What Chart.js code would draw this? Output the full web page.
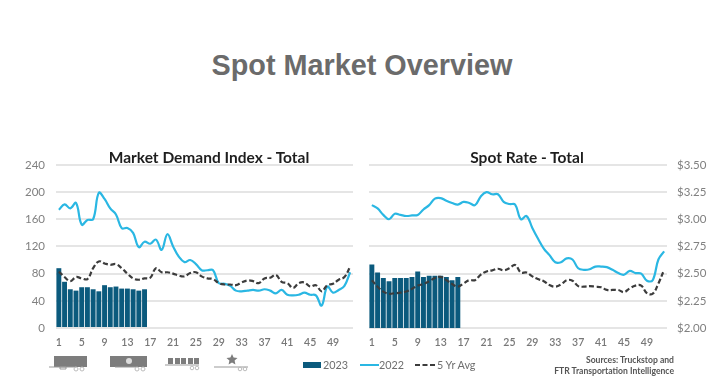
<!DOCTYPE html>
<html><head><meta charset="utf-8">
<script src="https://cdn.jsdelivr.net/npm/chart.js@4"></script>
<style>
html,body{margin:0;padding:0;background:#fff;width:724px;height:392px;overflow:hidden}
.a{position:absolute;white-space:nowrap}
canvas{position:absolute}
#main{left:0;width:724px;text-align:center;top:47px;font:bold 28.8px/36px "Liberation Sans",sans-serif;color:#6b6b6b}
.ct{font:bold 15.5px/18px Lato,sans-serif;color:#1e1e1e;text-align:center;transform:translateX(-50%);top:148px}
.lg{font:10.8px/16px Lato,sans-serif;color:#6f6f6f;top:357px}
#src{right:50px;top:355px;text-align:right;font:bold 8.6px/10.5px Lato,sans-serif;color:#555}
.soft{filter:blur(.45px)}
</style></head><body>
<div class="a" id="main">Spot Market Overview</div>
<canvas id="c1" class="soft" width="362" height="203" style="left:0;top:147px"></canvas>
<canvas id="c2" class="soft" width="362" height="202" style="left:362px;top:148px"></canvas>
<div class="a ct soft" style="left:209px">Market Demand Index - Total</div>
<div class="a ct soft" style="left:527px">Spot Rate - Total</div>
<svg class="a soft" width="724" height="392" style="left:0;top:0" fill="#7d7d7d">
  <rect x="54" y="356" width="33" height="11"/><path d="M49 367H76M60 367h6v2h-6z" stroke="#999" fill="none"/>
  <circle cx="76" cy="369" r="2" fill="none" stroke="#bbb"/><circle cx="82" cy="369" r="2" fill="none" stroke="#bbb"/>
  <rect x="110" y="356" width="37" height="11"/><circle cx="129" cy="361" r="3" fill="#ddd"/><path d="M115 367H136" stroke="#999"/>
  <circle cx="137" cy="369" r="2" fill="none" stroke="#bbb"/><circle cx="143" cy="369" r="2" fill="none" stroke="#bbb"/>
  <rect x="168" y="358" width="5" height="6"/><rect x="175" y="358" width="5" height="6"/><rect x="181" y="358" width="5" height="6"/><rect x="188" y="358" width="5" height="6"/><rect x="194" y="358" width="5" height="6"/>
  <path d="M165 365H199" stroke="#999"/><circle cx="192" cy="368" r="1.8" fill="none" stroke="#bbb"/><circle cx="197" cy="368" r="1.8" fill="none" stroke="#bbb"/>
  <path d="M232 354l1.6 3.6 3.9.4-2.9 2.6.8 3.9-3.4-2-3.4 2 .8-3.9-2.9-2.6 3.9-.4z"/>
  <path d="M214 367H248" stroke="#999"/><circle cx="240" cy="369" r="1.8" fill="none" stroke="#bbb"/><circle cx="245" cy="369" r="1.8" fill="none" stroke="#bbb"/>
  <rect x="303" y="362" width="18" height="6" fill="#0b5a7d"/>
  <path d="M360 365H379" stroke="#2ab7e3" stroke-width="2" fill="none"/>
  <path d="M415 365H436" stroke="#3c3c3c" stroke-width="2" stroke-dasharray="5 2.5" fill="none"/>
</svg>
<div class="a lg soft" style="left:323px">2023</div>
<div class="a lg soft" style="left:379px">2022</div>
<div class="a lg soft" style="left:437px">5 Yr Avg</div>
<div class="a soft" id="src">Sources: Truckstop and<br>FTR Transportation Intelligence</div>
<script>
const weeks = ['1','2','3','4','5','6','7','8','9','10','11','12','13','14','15','16','17','18','19','20','21','22','23','24','25','26','27','28','29','30','31','32','33','34','35','36','37','38','39','40','41','42','43','44','45','46','47','48','49','50','51','52'];
const demand2023 = [88,68,57,55,60,60,57,54,63,60,61,58,58,57,55,57];
const demand2022 = [174,182,176,184,152,159,160,199,190,176,167,147,147,140,119,127,124,130,115,138,120,105,97,100,94,85,85,85,66,65,62,55,54,55,56,55,57,55,51,56,49,48,49,52,49,48,33,61,52,56,62,82];
const demandAvg = [83,75,69,75,73,72,88,98,95,93,94,88,80,73,71,73,74,88,82,82,80,77,76,81,82,76,73,72,66,64,64,63,67,70,69,66,73,74,78,68,66,59,66,67,61,63,54,63,65,71,75,90];
const rate2023 = [2.585,2.51,2.46,2.43,2.46,2.46,2.46,2.47,2.52,2.47,2.48,2.48,2.48,2.47,2.44,2.47];
const rate2022 = [3.13,3.10,3.04,3.00,3.05,3.04,3.03,3.035,3.04,3.09,3.13,3.19,3.195,3.17,3.15,3.135,3.16,3.15,3.13,3.21,3.25,3.23,3.23,3.16,3.14,3.135,3.00,3.03,2.92,2.82,2.73,2.67,2.605,2.605,2.64,2.63,2.55,2.535,2.54,2.565,2.565,2.56,2.535,2.505,2.49,2.525,2.505,2.50,2.435,2.44,2.63,2.705];
const rateAvg = [2.44,2.38,2.335,2.315,2.32,2.325,2.335,2.36,2.39,2.405,2.43,2.46,2.47,2.44,2.405,2.38,2.41,2.44,2.44,2.49,2.52,2.53,2.545,2.53,2.55,2.58,2.51,2.51,2.475,2.45,2.43,2.395,2.38,2.40,2.44,2.435,2.385,2.38,2.385,2.38,2.375,2.35,2.35,2.35,2.33,2.365,2.39,2.39,2.32,2.315,2.41,2.535];

function make(id, bars, line, avg, yOpts, pad, axisPos, axisW){
  return new Chart(document.getElementById(id),{
    type:'bar',
    data:{labels:weeks,datasets:[
      {type:'line',label:'5 Yr Avg',data:avg,borderColor:'#3c3c3c',borderWidth:2.2,borderDash:[5,2.5],pointRadius:0,tension:.4,order:1},
      {type:'line',label:'2022',data:line,borderColor:'#2ab7e3',borderWidth:2.2,pointRadius:0,tension:.4,order:2},
      {type:'bar',label:'2023',data:bars,backgroundColor:'#0b5a7d',barPercentage:.86,categoryPercentage:1,order:3}
    ]},
    options:{responsive:false,animation:false,layout:{padding:pad},
      plugins:{legend:{display:false},title:{display:false},tooltip:{enabled:false}},
      scales:{
        x:{offset:true,grid:{display:false},border:{display:false},
           afterFit(s){s.height=22},
           ticks:{autoSkip:false,maxRotation:0,padding:0,color:'#777',font:{family:'Lato',size:10.5,weight:'600'},
             callback(v,i){return i%4===0?weeks[i]:''}}},
        y:Object.assign({position:axisPos,grid:{color:'#e5e5e5',lineWidth:2,drawTicks:false},border:{display:false},
           afterFit(s){s.width=axisW}},yOpts)
      }
    }
  });
}
const tickFont={family:'Lato',size:11.5};
make('c1',demand2023,demand2022,demandAvg,
  {min:0,max:240,ticks:{stepSize:40,padding:11,color:'#808080',font:tickFont}},
  {left:0,right:9,top:13,bottom:0},'left',56);
make('c2',rate2023,rate2022,rateAvg,
  {min:2,max:3.5,ticks:{stepSize:.25,padding:10,color:'#808080',font:tickFont,callback(v){return '$'+v.toFixed(2)}}},
  {left:7,right:0,top:13,bottom:0},'right',57);
</script>
</body></html>
